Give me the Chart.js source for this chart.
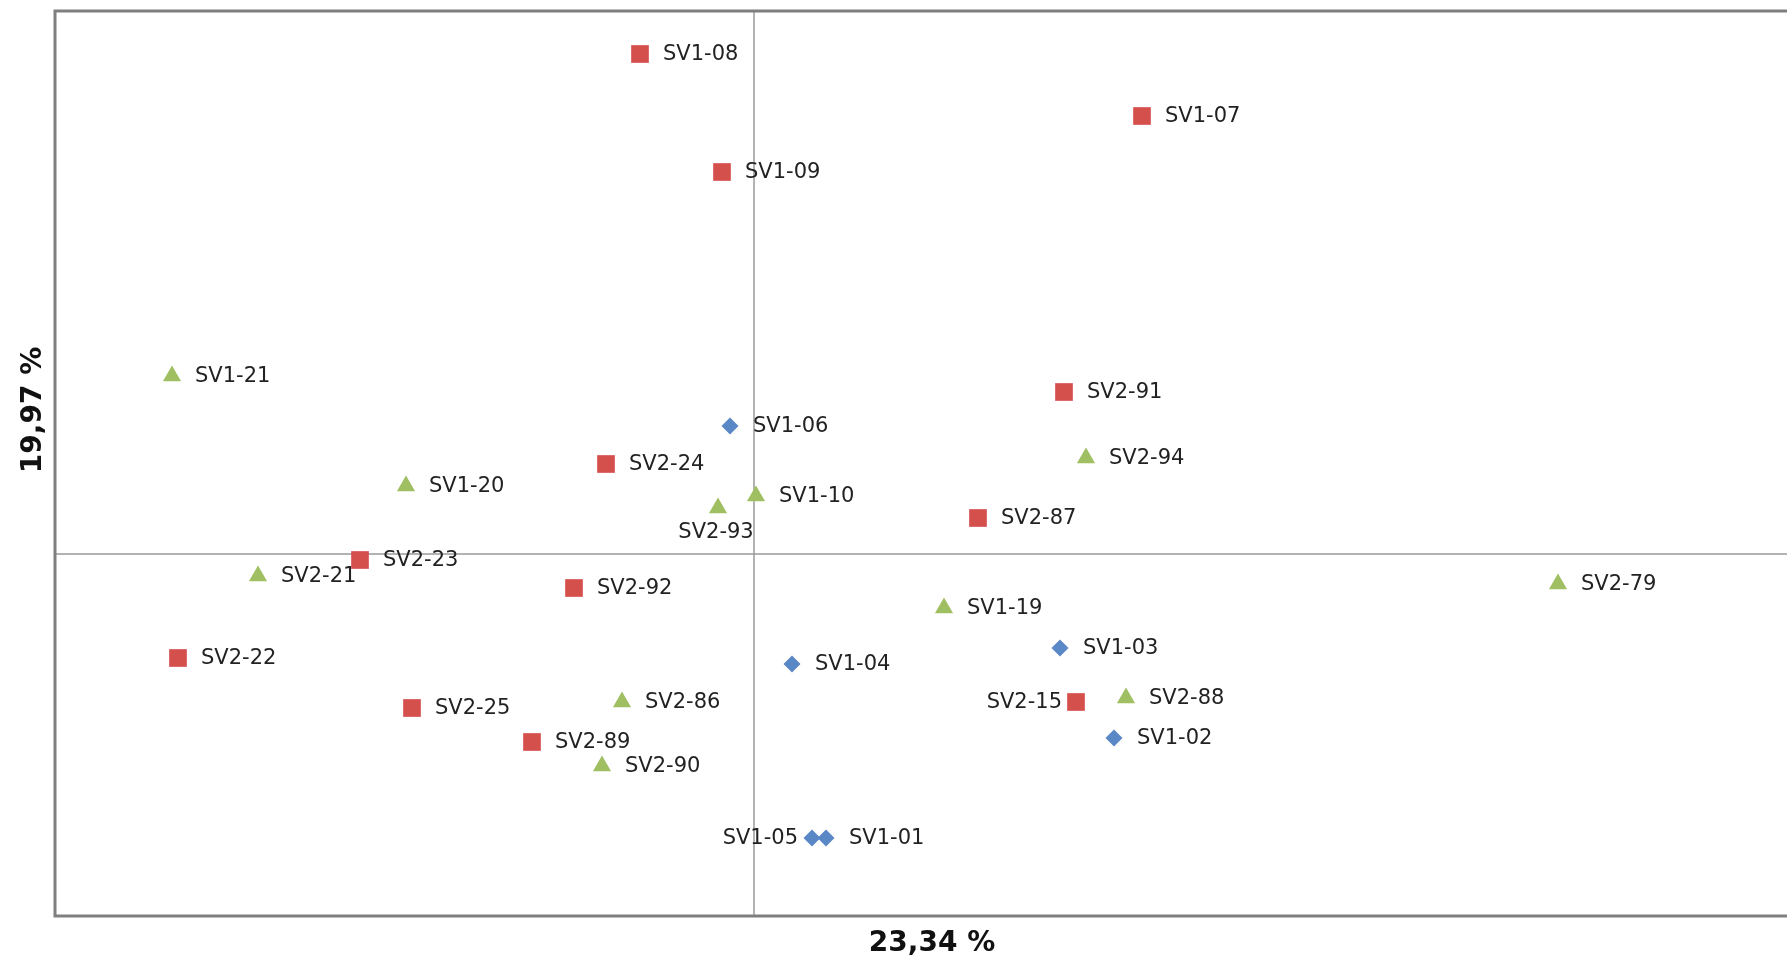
<!DOCTYPE html>
<html>
<head>
<meta charset="utf-8">
<script src="https://cdn.jsdelivr.net/npm/chart.js@4"></script>
<style>
  html, body { margin: 0; padding: 0; background: #fff; overflow: hidden; }
  canvas { display: block; }
</style>
</head>
<body>
<canvas id="pca" width="1787" height="956"></canvas>
<script>
// axis titles (explained variance)
var xTitle = "23,34 %";
var yTitle = "19,97 %";

// group 1 - red squares
var redNames = ["SV1-08","SV1-07","SV1-09","SV2-91","SV2-24","SV2-87","SV2-23","SV2-92","SV2-22","SV2-25","SV2-89","SV2-15"];
var redX = [-0.57, 1.94, -0.16, 1.55, -0.74, 1.12, -1.97, -0.90, -2.88, -1.71, -1.11, 1.61];
var redY = [2.50, 2.19, 1.91, 0.81, 0.45, 0.18, -0.03, -0.17, -0.52, -0.77, -0.94, -0.74];

// group 2 - blue diamonds
var blueNames = ["SV1-06","SV1-04","SV1-03","SV1-02","SV1-05","SV1-01"];
var blueX = [-0.12, 0.19, 1.53, 1.80, 0.29, 0.36];
var blueY = [0.64, -0.55, -0.47, -0.92, -1.42, -1.42];

// group 3 - green triangles
var greenNames = ["SV1-21","SV1-20","SV2-94","SV1-10","SV2-93","SV2-21","SV2-79","SV1-19","SV2-86","SV2-88","SV2-90"];
var greenX = [-2.91, -1.74, 1.66, 0.01, -0.18, -2.48, 4.02, 0.95, -0.66, 1.86, -0.76];
var greenY = [0.89, 0.34, 0.48, 0.29, 0.23, -0.11, -0.15, -0.27, -0.74, -0.72, -1.06];

// where a label sits if not to the right of its marker
var labelSide = { "SV1-05": "left", "SV2-15": "left", "SV2-93": "below" };

function toPoints(names, xs, ys){
  var pts = [];
  for (var i = 0; i < names.length; i++) {
    pts.push({ x: xs[i], y: ys[i], name: names[i] });
  }
  return pts;
}

// frame on left/top/bottom + zero lines through origin
var framePlugin = {
  id: 'frame',
  beforeDatasetsDraw: function(chart){
    var ctx = chart.ctx, a = chart.chartArea;
    var x0 = chart.scales.x.getPixelForValue(0);
    var y0 = chart.scales.y.getPixelForValue(0);
    ctx.save();
    ctx.strokeStyle = '#9a9a9a';
    ctx.lineWidth = 1.5;
    ctx.beginPath();
    ctx.moveTo(x0, a.top); ctx.lineTo(x0, a.bottom);
    ctx.moveTo(a.left, y0); ctx.lineTo(a.right + 5, y0);
    ctx.stroke();
    ctx.strokeStyle = '#7f7f7f';
    ctx.lineWidth = 3;
    ctx.beginPath();
    ctx.moveTo(a.right + 5, a.top);
    ctx.lineTo(a.left, a.top);
    ctx.lineTo(a.left, a.bottom);
    ctx.lineTo(a.right + 5, a.bottom);
    ctx.stroke();
    ctx.restore();
  },
  afterDraw: function(chart){
    var ctx = chart.ctx;
    ctx.save();
    ctx.fillStyle = '#111';
    ctx.font = 'bold 28px "DejaVu Sans"';
    ctx.textAlign = 'center';
    ctx.textBaseline = 'alphabetic';
    ctx.fillText(xTitle, 932, 951);
    ctx.translate(41, 410);
    ctx.rotate(-Math.PI / 2);
    ctx.fillText(yTitle, 0, 0);
    ctx.restore();
  }
};

// point labels
var labelPlugin = {
  id: 'pointLabels',
  afterDatasetsDraw: function(chart){
    var ctx = chart.ctx;
    ctx.save();
    ctx.fillStyle = '#222';
    ctx.font = '21px "DejaVu Sans"';
    chart.data.datasets.forEach(function(ds, di){
      var meta = chart.getDatasetMeta(di);
      meta.data.forEach(function(el, i){
        var name = ds.data[i].name;
        var side = labelSide[name] || 'right';
        if (side == 'left') {
          ctx.textAlign = 'right'; ctx.textBaseline = 'middle';
          ctx.fillText(name, el.x - 14, el.y + 1);
        } else if (side == 'below') {
          ctx.textAlign = 'center'; ctx.textBaseline = 'middle';
          ctx.fillText(name, el.x - 2, el.y + 25);
        } else {
          ctx.textAlign = 'left'; ctx.textBaseline = 'middle';
          ctx.fillText(name, el.x + 23, el.y + 1);
        }
      });
    });
    ctx.restore();
  }
};

new Chart(document.getElementById('pca'), {
  type: 'scatter',
  data: {
    datasets: [{
      label: 'group 1',
      data: toPoints(redNames, redX, redY),
      pointStyle: 'rect',
      pointRadius: 12.5,
      backgroundColor: '#d4504c',
      borderColor: '#d4504c',
      borderWidth: 0
    }, {
      label: 'group 2',
      data: toPoints(blueNames, blueX, blueY),
      pointStyle: 'rectRot',
      pointRadius: 8.5,
      backgroundColor: '#5a87c6',
      borderColor: '#5a87c6',
      borderWidth: 0
    }, {
      label: 'group 3',
      data: toPoints(greenNames, greenX, greenY),
      pointStyle: 'triangle',
      pointRadius: 10.5,
      backgroundColor: '#9fbf62',
      borderColor: '#9fbf62',
      borderWidth: 0
    }]
  },
  options: {
    responsive: false,
    animation: false,
    layout: { autoPadding: false, padding: { left: 55, top: 11, right: 0, bottom: 40 } },
    plugins: {
      legend: { display: false },
      tooltip: { enabled: false }
    },
    scales: {
      x: { type: 'linear', display: false, min: -3.495, max: 5.165 },
      y: { type: 'linear', display: false, min: -1.81, max: 2.715 }
    }
  },
  plugins: [framePlugin, labelPlugin]
});
console.log("pca plot success");
</script>
</body>
</html>
